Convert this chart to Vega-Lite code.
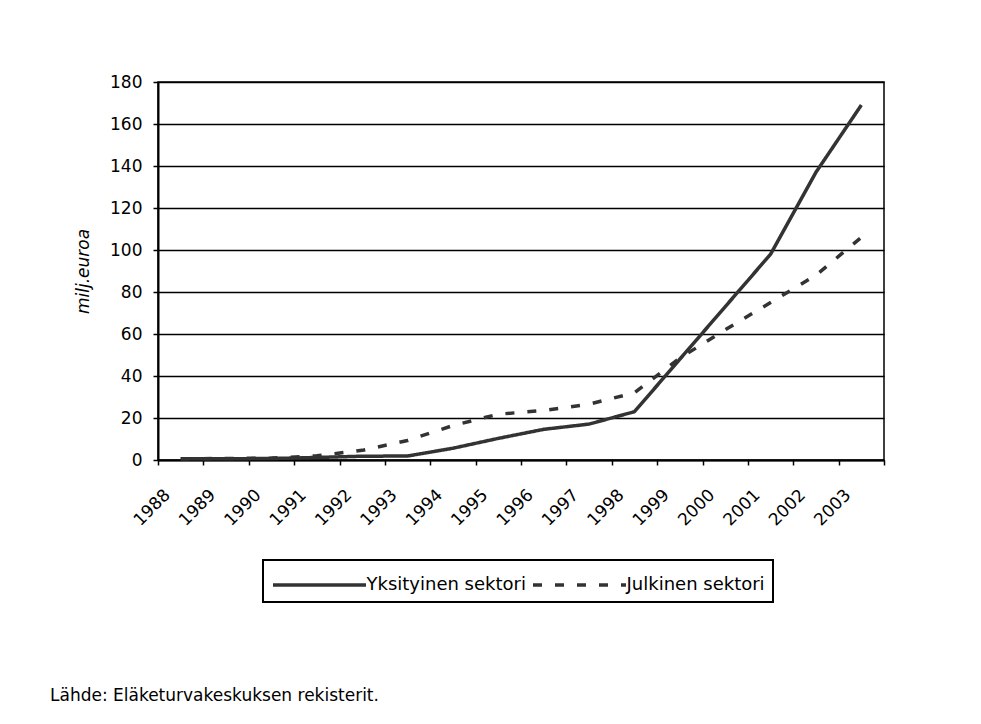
{
  "$schema": "https://vega.github.io/schema/vega-lite/v6.json",
  "width": 726,
  "height": 378,
  "autosize": {"type": "none"},
  "padding": {"left": 158, "top": 82, "right": 97, "bottom": 264},
  "background": "white",
  "config": {
    "font": "DejaVu Sans",
    "view": {"stroke": "black", "strokeWidth": 1.5}
  },
  "title": {
    "text": "Lähde: Eläketurvakeskuksen rekisterit.",
    "orient": "bottom",
    "anchor": "start",
    "frame": "group",
    "dx": -108,
    "offset": 85,
    "fontSize": 17,
    "fontWeight": "normal",
    "font": "DejaVu Sans",
    "color": "black"
  },
  "data": {
    "values": [
      {"year": 1988, "series": "Yksityinen sektori", "value": 0.6},
      {"year": 1989, "series": "Yksityinen sektori", "value": 0.6},
      {"year": 1990, "series": "Yksityinen sektori", "value": 0.7},
      {"year": 1991, "series": "Yksityinen sektori", "value": 1.2},
      {"year": 1992, "series": "Yksityinen sektori", "value": 1.8},
      {"year": 1993, "series": "Yksityinen sektori", "value": 1.9},
      {"year": 1994, "series": "Yksityinen sektori", "value": 5.6},
      {"year": 1995, "series": "Yksityinen sektori", "value": 10.3},
      {"year": 1996, "series": "Yksityinen sektori", "value": 14.6},
      {"year": 1997, "series": "Yksityinen sektori", "value": 17.1},
      {"year": 1998, "series": "Yksityinen sektori", "value": 23},
      {"year": 1999, "series": "Yksityinen sektori", "value": 48},
      {"year": 2000, "series": "Yksityinen sektori", "value": 73},
      {"year": 2001, "series": "Yksityinen sektori", "value": 98},
      {"year": 2002, "series": "Yksityinen sektori", "value": 137},
      {"year": 2003, "series": "Yksityinen sektori", "value": 169},
      {"year": 1988, "series": "Julkinen sektori", "value": 0.6},
      {"year": 1989, "series": "Julkinen sektori", "value": 0.7},
      {"year": 1990, "series": "Julkinen sektori", "value": 0.9},
      {"year": 1991, "series": "Julkinen sektori", "value": 2},
      {"year": 1992, "series": "Julkinen sektori", "value": 4.6},
      {"year": 1993, "series": "Julkinen sektori", "value": 9.3},
      {"year": 1994, "series": "Julkinen sektori", "value": 16.4},
      {"year": 1995, "series": "Julkinen sektori", "value": 21.8},
      {"year": 1996, "series": "Julkinen sektori", "value": 23.6},
      {"year": 1997, "series": "Julkinen sektori", "value": 26.6},
      {"year": 1998, "series": "Julkinen sektori", "value": 32},
      {"year": 1999, "series": "Julkinen sektori", "value": 48.5},
      {"year": 2000, "series": "Julkinen sektori", "value": 62},
      {"year": 2001, "series": "Julkinen sektori", "value": 75},
      {"year": 2002, "series": "Julkinen sektori", "value": 88},
      {"year": 2003, "series": "Julkinen sektori", "value": 106}
    ]
  },
  "mark": {"type": "line", "strokeWidth": 3.5, "strokeJoin": "round"},
  "encoding": {
    "x": {
      "field": "year",
      "type": "quantitative",
      "scale": {"domain": [1987.5, 2003.5], "nice": false, "zero": false},
      "axis": {
        "title": null,
        "values": [1987.5, 1988.5, 1989.5, 1990.5, 1991.5, 1992.5, 1993.5, 1994.5, 1995.5, 1996.5, 1997.5, 1998.5, 1999.5, 2000.5, 2001.5, 2002.5, 2003.5],
        "labelExpr": "datum.value > 2003 ? '' : '' + (datum.value + 0.5)",
        "grid": false,
        "domainColor": "black",
        "domainWidth": 2,
        "ticks": true,
        "tickSize": 5,
        "tickColor": "black",
        "tickWidth": 1.5,
        "labelAngle": -45,
        "labelAlign": "right",
        "labelBaseline": "middle",
        "labelOffset": 9,
        "labelPadding": 27,
        "labelFontSize": 17,
        "labelColor": "black",
        "labelFlush": false,
        "labelOverlap": false,
        "labelBound": false
      }
    },
    "y": {
      "field": "value",
      "type": "quantitative",
      "scale": {"domain": [0, 180], "nice": false},
      "axis": {
        "title": "milj.euroa",
        "values": [0, 20, 40, 60, 80, 100, 120, 140, 160, 180],
        "grid": true,
        "gridColor": "black",
        "gridWidth": 1.5,
        "gridOpacity": 1,
        "domainColor": "black",
        "domainWidth": 2,
        "tickSize": 5,
        "tickColor": "black",
        "tickWidth": 1.5,
        "labelFontSize": 17,
        "labelColor": "black",
        "labelPadding": 11,
        "labelFlush": false,
        "titleFontSize": 17,
        "titleFontStyle": "italic",
        "titleFontWeight": "normal",
        "titleColor": "black",
        "titleAngle": -90,
        "titleAlign": "center",
        "titleBaseline": "middle",
        "titleX": -75,
        "titleY": 189
      }
    },
    "color": {
      "field": "series",
      "type": "nominal",
      "scale": {"domain": ["Yksityinen sektori", "Julkinen sektori"], "range": ["#333333", "#333333"]},
      "legend": {
        "title": null,
        "orient": "none",
        "legendX": 105,
        "legendY": 478,
        "direction": "horizontal",
        "strokeColor": "black",
        "padding": 8,
        "symbolType": "M-3.1,0H3.1",
        "symbolSize": 900,
        "symbolOffset": 31.5,
        "symbolStrokeWidth": 3.5,
        "labelFontSize": 18,
        "labelColor": "black",
        "labelOffset": 30,
        "columnPadding": 0,
        "labelLimit": 400,
        "encode": {"legend": {"update": {"strokeWidth": {"value": 2}}}}
      }
    },
    "strokeDash": {
      "field": "series",
      "type": "nominal",
      "scale": {"domain": ["Yksityinen sektori", "Julkinen sektori"], "range": [[1, 0], [9, 13]]},
      "legend": {
        "title": null,
        "orient": "none",
        "legendX": 105,
        "legendY": 478,
        "direction": "horizontal",
        "strokeColor": "black",
        "padding": 8,
        "symbolType": "M-3.1,0H3.1",
        "symbolSize": 900,
        "symbolOffset": 31.5,
        "symbolStrokeWidth": 3.5,
        "labelFontSize": 18,
        "labelColor": "black",
        "labelOffset": 30,
        "columnPadding": 0,
        "labelLimit": 400,
        "encode": {"legend": {"update": {"strokeWidth": {"value": 2}}}}
      }
    }
  }
}
